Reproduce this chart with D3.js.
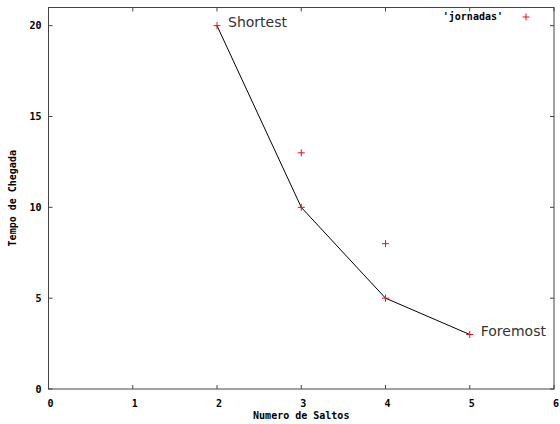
<!DOCTYPE html>
<html>
<head>
<meta charset="utf-8">
<script src="https://cdn.jsdelivr.net/npm/d3@7"></script>
<style>
  body { margin: 0; background: #fff; }
  text.tk { font-family: "DejaVu Sans Mono", monospace; font-weight: bold; font-size: 10px; fill: #000; }
</style>
</head>
<body>
<div id="chart"></div>
<script>
// points of 'jornadas'
const jornadasX = [2, 3, 3, 4, 4, 5];
const jornadasY = [20, 13, 10, 8, 5, 3];
// pareto line
const frontX = [2, 3, 4, 5];
const frontY = [20, 10, 5, 3];
const xTicks = [0, 1, 2, 3, 4, 5, 6];
const yTicks = [0, 5, 10, 15, 20];
const notes = [
  { x: 2, y: 20, text: 'Shortest' },
  { x: 5, y: 3, text: 'Foremost' },
];

const size = { width: 560, height: 424 };
const margin = { left: 48.5, top: 7.5, right: 6, bottom: 35 };

const svg = d3.select('#chart')
  .append('svg')
  .attr('width', size.width)
  .attr('height', size.height);

const x = d3.scaleLinear()
  .domain([0, 6])
  .range([margin.left, size.width - margin.right]);

const y = d3.scaleLinear()
  .domain([0, 21])
  .range([size.height - margin.bottom, margin.top]);

const axisColor = '#444';

// frame
svg.append('rect')
  .attr('x', x(0)).attr('y', y(21))
  .attr('width', x(6) - x(0)).attr('height', y(0) - y(21))
  .attr('fill', 'none').attr('stroke', axisColor).attr('stroke-width', 1);

// ticks (mirrored, inward)
const tl = 4;
xTicks.forEach((t) => {
  svg.append('line').attr('x1', x(t)).attr('x2', x(t))
    .attr('y1', y(0)).attr('y2', y(0) - tl).attr('stroke', axisColor);
  svg.append('line').attr('x1', x(t)).attr('x2', x(t))
    .attr('y1', y(21)).attr('y2', y(21) + tl).attr('stroke', axisColor);
  svg.append('text').attr('class', 'tk')
    .attr('x', x(t) + 2).attr('y', y(0) + 18)
    .attr('text-anchor', 'middle').text(t);
});
yTicks.forEach((t) => {
  svg.append('line').attr('x1', x(0)).attr('x2', x(0) + tl)
    .attr('y1', y(t)).attr('y2', y(t)).attr('stroke', axisColor);
  svg.append('line').attr('x1', x(6)).attr('x2', x(6) - tl)
    .attr('y1', y(t)).attr('y2', y(t)).attr('stroke', axisColor);
  svg.append('text').attr('class', 'tk')
    .attr('x', x(0) - 7).attr('y', y(t) + 3.5)
    .attr('text-anchor', 'end').text(t);
});

// axis titles
svg.append('text').attr('class', 'tk')
  .attr('x', (x(0) + x(6)) / 2).attr('y', 419)
  .attr('text-anchor', 'middle').text('Numero de Saltos');
svg.append('text').attr('class', 'tk')
  .attr('transform', `translate(16,${(y(0) + y(21)) / 2}) rotate(-90)`)
  .attr('text-anchor', 'middle').text('Tempo de Chegada');

// line
const line = d3.line()
  .x((d, i) => x(frontX[i]))
  .y((d, i) => y(frontY[i]));
svg.append('path')
  .datum(frontX)
  .attr('d', line)
  .attr('fill', 'none')
  .attr('stroke', '#000')
  .attr('stroke-width', 1);

// crosses
const cross = (cx, cy) => `M${cx - 3.5},${cy}H${cx + 3.5}M${cx},${cy - 3.5}V${cy + 3.5}`;
svg.selectAll('.pt')
  .data(jornadasX)
  .enter()
  .append('path')
  .attr('class', 'pt')
  .attr('d', (d, i) => cross(x(d), y(jornadasY[i])))
  .attr('stroke', '#e8101c')
  .attr('stroke-width', 1);

// notes
svg.selectAll('.note')
  .data(notes)
  .enter()
  .append('text')
  .attr('x', (d) => x(d.x) + 11)
  .attr('y', (d) => y(d.y) + 1)
  .attr('font-family', 'DejaVu Sans, sans-serif')
  .attr('font-size', 14)
  .attr('fill', '#333')
  .text((d) => d.text);

// legend
svg.append('text').attr('class', 'tk')
  .attr('x', 503).attr('y', 20)
  .attr('text-anchor', 'end').text("'jornadas'");
svg.append('path')
  .attr('d', cross(526, 17))
  .attr('stroke', '#e8101c');
</script>
</body>
</html>
